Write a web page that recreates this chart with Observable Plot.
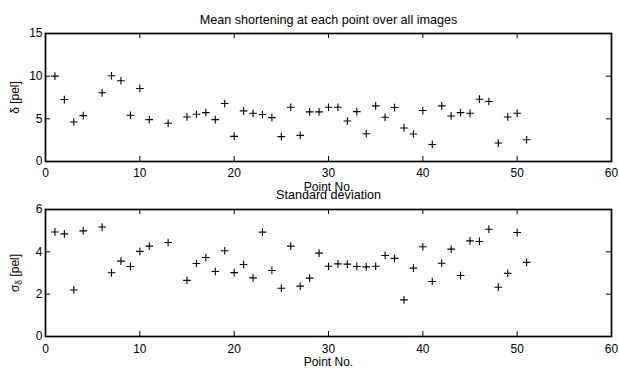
<!DOCTYPE html>
<html><head><meta charset="utf-8">
<script src="https://cdn.jsdelivr.net/npm/d3@7"></script>
<script src="https://cdn.jsdelivr.net/npm/@observablehq/plot@0.6"></script>
<style>
body{margin:0;background:#fff}
#wrap{position:relative;width:619px;height:368px;overflow:hidden}
#wrap svg{position:absolute;left:0}
</style>
</head><body><div id="wrap"></div>
<script>
const pointNo = [1,2,3,4,6,7,8,9,10,11,13,15,16,17,18,19,20,21,22,23,24,25,26,27,28,29,30,31,32,33,34,35,36,37,38,39,40,41,42,43,44,45,46,47,48,49,50,51];
const meanShortening = [10.0,7.26,4.63,5.38,8.05,10.05,9.46,5.42,8.56,4.91,4.48,5.22,5.54,5.73,4.91,6.79,2.94,5.93,5.65,5.50,5.14,2.91,6.36,3.06,5.81,5.81,6.36,6.36,4.75,5.85,3.26,6.52,5.18,6.32,3.93,3.22,5.97,2.00,6.52,5.34,5.73,5.65,7.30,7.03,2.16,5.22,5.65,2.55];
const stdDeviation = [4.94,4.85,2.20,4.99,5.17,3.01,3.56,3.31,4.02,4.27,4.44,2.65,3.45,3.73,3.07,4.05,3.02,3.40,2.77,4.93,3.12,2.28,4.27,2.38,2.76,3.94,3.32,3.43,3.42,3.31,3.29,3.32,3.83,3.69,1.73,3.23,4.24,2.60,3.46,4.13,2.88,4.52,4.49,5.07,2.33,2.98,4.91,3.50];
const xTicks = [0,10,20,30,40,50,60];
const yTicksTop = [0,5,10,15];
const yTicksBottom = [0,2,4,6];
const titleTop = "Mean shortening at each point over all images";
const titleBottom = "Standard deviation";
const xLabel = "Point No.";
const yLabelTop = "δ [pel]";
const yLabelBottom = "σδ [pel]";

const table = pointNo.map((p, i) => ({point: p, mean: meanShortening[i], sd: stdDeviation[i]}));
const xDomain = [0, 60];
const FS = 12, TFS = 12.6;

function panel({yKey, yDomain, yTicks, title, ylabel, height, marginTop, marginBottom, tickPadding, titleDy, xlabelDy}) {
  const W = 619, ML = 45, MR = 8;
  const fw = W - ML - MR, fh = height - marginTop - marginBottom;
  const tx = 5 * (xDomain[1] - xDomain[0]) / fw;
  const ty = 5 * (yDomain[1] - yDomain[0]) / fh;
  return Plot.plot({
    width: W, height, marginLeft: ML, marginRight: MR, marginTop, marginBottom,
    style: "background: transparent; font-size: 12px; font-family: 'Liberation Sans', Arial, sans-serif; color: black; overflow: visible;",
    x: {domain: xDomain},
    y: {domain: yDomain},
    marks: [
      Plot.ruleX(xTicks, {x: d => d, y1: yDomain[0], y2: yDomain[0] + ty, stroke: "black"}),
      Plot.ruleX(xTicks, {x: d => d, y1: yDomain[1], y2: yDomain[1] - ty, stroke: "black"}),
      Plot.ruleY(yTicks, {y: d => d, x1: xDomain[0], x2: xDomain[0] + tx, stroke: "black"}),
      Plot.ruleY(yTicks, {y: d => d, x1: xDomain[1], x2: xDomain[1] - tx, stroke: "black"}),
      Plot.frame({stroke: "black", strokeWidth: 1.7}),
      Plot.axisX(xTicks, {tickSize: 0, tickPadding, label: null, fontSize: FS}),
      Plot.axisY(yTicks, {tickSize: 0, tickPadding: 3, label: null, fontSize: FS}),
      Plot.dot(table, {x: "point", y: yKey, symbol: "plus", r: 2.6, stroke: "black", strokeWidth: 1.1}),
      Plot.text([title], {frameAnchor: "top", lineAnchor: "middle", textAnchor: "middle", dy: titleDy, text: d => d, fill: "black", fontSize: TFS}),
      Plot.text([xLabel], {frameAnchor: "bottom", lineAnchor: "middle", textAnchor: "middle", dy: xlabelDy, text: d => d, fill: "black", fontSize: FS}),
      Plot.text([ylabel], {frameAnchor: "left", lineAnchor: "middle", textAnchor: "middle", dx: -30, rotate: -90, text: d => d, fill: "black", fontSize: FS})
    ]
  });
}

const topPanel = panel({yKey: "mean", yDomain: [0, 15], yTicks: yTicksTop, title: titleTop, ylabel: yLabelTop,
  height: 195, marginTop: 33, marginBottom: 34, tickPadding: 7, titleDy: -14, xlabelDy: 25.4});
const bottomPanel = panel({yKey: "sd", yDomain: [0, 6], yTicks: yTicksBottom, title: titleBottom, ylabel: yLabelBottom,
  height: 188, marginTop: 29, marginBottom: 32, tickPadding: 8, titleDy: -15, xlabelDy: 25.6});

topPanel.style.top = "0px";
bottomPanel.style.top = "180px";
const wrap = document.getElementById("wrap");
wrap.appendChild(topPanel);
wrap.appendChild(bottomPanel);

d3.select(bottomPanel).selectAll("text").filter(function() { return this.textContent === yLabelBottom; })
  .each(function() {
    const t = d3.select(this);
    t.text(null);
    t.append("tspan").text("σ");
    t.append("tspan").attr("dy", 3).attr("font-size", "8.5px").text("δ");
    t.append("tspan").attr("dy", -3).text(" [pel]");
  });
</script>
</body></html>
